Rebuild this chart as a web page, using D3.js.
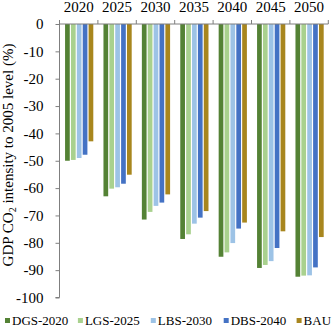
<!DOCTYPE html>
<html>
<head>
<meta charset="utf-8">
<script src="https://cdn.jsdelivr.net/npm/d3@7"></script>
<style>
  body { margin: 0; background: #fff; }
  svg { display: block; font-family: "Liberation Serif", "Times New Roman", serif; }
</style>
</head>
<body>
<svg id="chart" width="334" height="326"></svg>
<script>
const years = ["2020", "2025", "2030", "2035", "2040", "2045", "2050"];
const seriesNames = ["DGS-2020", "LGS-2025", "LBS-2030", "DBS-2040", "BAU"];
const seriesColors = ["#548235", "#A9D18E", "#9DC3E6", "#4472C4", "#A8861E"];
const dgs2020 = [-50.0, -63.0, -71.5, -78.6, -85.1, -89.2, -92.4];
const lgs2025 = [-49.7, -60.2, -68.7, -76.9, -83.5, -88.1, -92.0];
const lbs2030 = [-49.0, -59.7, -66.5, -73.0, -80.1, -86.7, -91.9];
const dbs2040 = [-47.8, -58.4, -65.3, -70.8, -74.8, -81.9, -89.0];
const bau = [-42.9, -55.1, -62.3, -68.4, -72.6, -75.8, -77.9];
const yTicks = [0, -10, -20, -30, -40, -50, -60, -70, -80, -90, -100];

const allSeries = [dgs2020, lgs2025, lbs2030, dbs2040, bau];

const svg = d3.select("#chart");
const mLeft = 59.5, mRight = 328.3, mTop = 24, mBottom = 297.5;
const serifFont = '"Liberation Serif", "Times New Roman", serif';

const x0 = d3.scaleBand().domain(years).range([mLeft, mRight]).padding(0);
const bw = x0.bandwidth();
const x1 = d3.scaleBand().domain(seriesNames)
  .range([bw * 0.145, bw * 0.88]).paddingInner(0.2).paddingOuter(0);
const y = d3.scaleLinear().domain([-100, 0]).range([mBottom, mTop]);

// bars
const groups = svg.append("g").selectAll("g")
  .data(years).join("g")
  .attr("transform", d => `translate(${x0(d)},0)`);

groups.selectAll("rect")
  .data((yr, i) => seriesNames.map((s, j) => ({ s, j, v: allSeries[j][i] })))
  .join("rect")
  .attr("x", d => x1(d.s))
  .attr("width", x1.bandwidth())
  .attr("y", y(0))
  .attr("height", d => y(d.v) - y(0))
  .attr("fill", d => seriesColors[d.j]);

const axisColor = "#7f7f7f";

// y axis
const yAxis = svg.append("g").attr("transform", `translate(${mLeft},0)`)
  .call(d3.axisLeft(y).tickValues(yTicks).tickSize(4).tickPadding(12).tickFormat(d => d === 0 ? "0" : "-" + Math.abs(d)));
yAxis.attr("font-family", null);
yAxis.select(".domain").attr("stroke", axisColor).attr("d", `M-4,${y(-100)}H0V${y(0)}`);
yAxis.selectAll(".tick line").attr("stroke", axisColor);
yAxis.selectAll(".tick text").attr("fill", "#000").style("font-size", "15px")
  .style("font-family", serifFont);

// x axis on top (category labels)
const xAxis = svg.append("g").attr("transform", `translate(0,${mTop})`)
  .call(d3.axisTop(x0).tickSize(0).tickPadding(12));
xAxis.attr("font-family", null);
xAxis.select(".domain").attr("stroke", axisColor).attr("d", `M${mLeft},0H${mRight}`);
xAxis.selectAll(".tick text").attr("fill", "#000").style("font-size", "15px")
  .style("font-family", serifFont);
const bounds = years.map(d => x0(d)).concat([mRight]);
svg.append("g").selectAll("line").data(bounds).join("line")
  .attr("x1", d => d).attr("x2", d => d)
  .attr("y1", mTop - 4).attr("y2", mTop)
  .attr("stroke", axisColor);

// y title
const title = svg.append("text")
  .attr("transform", `translate(13,155) rotate(-90)`)
  .attr("text-anchor", "middle")
  .style("font-size", "15px")
  .style("font-family", serifFont)
  .attr("fill", "#000");
title.append("tspan").text("GDP CO");
title.append("tspan").attr("dy", 3).style("font-size", "10px").text("2");
title.append("tspan").attr("dy", -3).text(" intensity to 2005 level (%)");

// legend
const legend = svg.append("g");
const legendStep = 72.9;
seriesNames.forEach((name, i) => {
  const lx = 5 + i * legendStep;
  legend.append("rect").attr("x", lx).attr("y", 318).attr("width", 5).attr("height", 5)
    .attr("fill", seriesColors[i]);
  legend.append("text").attr("x", lx + 7).attr("y", 324.5)
    .style("font-size", "13px").style("font-family", serifFont)
    .attr("fill", "#000").text(name);
});
</script>
</body>
</html>
